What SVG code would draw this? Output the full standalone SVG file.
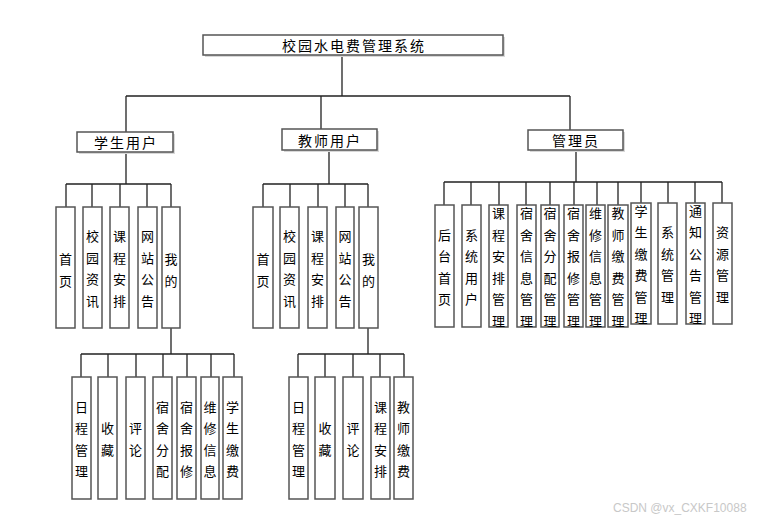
<svg xmlns="http://www.w3.org/2000/svg" width="773" height="523" viewBox="0 0 773 523">
<style>
.b{fill:#fff;stroke:#555;stroke-width:1.5}
.s{fill:#d8d8d8}
.c{fill:none;stroke:#222;stroke-width:1.3}
.t{font-family:"Noto Sans CJK SC","Liberation Sans",sans-serif;font-size:13px;fill:#000;text-anchor:middle;dominant-baseline:central}
.h{font-family:"Noto Sans CJK SC","Liberation Sans",sans-serif;font-size:14px;fill:#000;text-anchor:middle;dominant-baseline:central;letter-spacing:2px}
.w{font-family:"Liberation Sans",sans-serif;font-size:12px;fill:#c8c8c8}
</style>
<rect width="773" height="523" fill="#fff"/>
<g id="connectors">
<path class="c" d="M342,55V96M126,96H570M126,96V132M321,96V129M570,96V130"/>
<path class="c" d="M126,152V184M66,184H171M66,184V207M92,184V207M120,184V207M147,184V207M171,184V207"/>
<path class="c" d="M171,328V354M81,354H234M81,354V377M108,354V377M136,354V377M163,354V377M187,354V377M211,354V377M234,354V377"/>
<path class="c" d="M329,150V184M263,184H368M263,184V207M290,184V207M318,184V207M345,184V207M368,184V207"/>
<path class="c" d="M368,328V354M298,354H404M298,354V377M325,354V377M353,354V377M380,354V377M404,354V377"/>
<path class="c" d="M576,150V182M444,182H722M444,182V205M471,182V205M499,182V205M526,182V205M550,182V205M574,182V205M597,182V205M618,182V205M641,182V203M668,182V203M695,182V203M722,182V203"/>
</g>
<g id="root"><rect class="s" x="205" y="37" width="300" height="20"/><rect class="b" x="203" y="35" width="300" height="20"/><text class="h" x="354" y="45">校园水电费管理系统</text></g>
<g id="student"><rect class="s" x="79" y="134" width="96" height="20"/><rect class="b" x="77" y="132" width="96" height="20"/><text class="h" x="126" y="142">学生用户</text></g>
<g id="teacher"><rect class="s" x="284" y="131" width="95" height="21"/><rect class="b" x="282" y="129" width="95" height="21"/><text class="h" x="330" y="139.5">教师用户</text></g>
<g id="admin"><rect class="s" x="530" y="132" width="95" height="20"/><rect class="b" x="528" y="130" width="95" height="20"/><text class="h" x="576" y="140">管理员</text></g>

<g id="s1"><rect class="b" x="56" y="207" width="19" height="121"/><text class="t"><tspan x="65.5" y="258">首</tspan><tspan x="65.5" y="279.5">页</tspan></text></g>
<g id="s2"><rect class="b" x="83" y="207" width="19" height="121"/><text class="t"><tspan x="92.5" y="235.25">校</tspan><tspan x="92.5" y="256.75">园</tspan><tspan x="92.5" y="278.25">资</tspan><tspan x="92.5" y="299.75">讯</tspan></text></g>
<g id="s3"><rect class="b" x="110" y="207" width="19" height="121"/><text class="t"><tspan x="119.5" y="235.25">课</tspan><tspan x="119.5" y="256.75">程</tspan><tspan x="119.5" y="278.25">安</tspan><tspan x="119.5" y="299.75">排</tspan></text></g>
<g id="s4"><rect class="b" x="138" y="207" width="19" height="121"/><text class="t"><tspan x="147.5" y="235.25">网</tspan><tspan x="147.5" y="256.75">站</tspan><tspan x="147.5" y="278.25">公</tspan><tspan x="147.5" y="299.75">告</tspan></text></g>
<g id="s5"><rect class="b" x="162" y="207" width="18" height="121"/><text class="t"><tspan x="171" y="258">我</tspan><tspan x="171" y="279.5">的</tspan></text></g>

<g id="t1"><rect class="b" x="253" y="207" width="20" height="121"/><text class="t"><tspan x="263" y="258">首</tspan><tspan x="263" y="279.5">页</tspan></text></g>
<g id="t2"><rect class="b" x="280" y="207" width="19" height="121"/><text class="t"><tspan x="289.5" y="235.25">校</tspan><tspan x="289.5" y="256.75">园</tspan><tspan x="289.5" y="278.25">资</tspan><tspan x="289.5" y="299.75">讯</tspan></text></g>
<g id="t3"><rect class="b" x="308" y="207" width="19" height="121"/><text class="t"><tspan x="317.5" y="235.25">课</tspan><tspan x="317.5" y="256.75">程</tspan><tspan x="317.5" y="278.25">安</tspan><tspan x="317.5" y="299.75">排</tspan></text></g>
<g id="t4"><rect class="b" x="336" y="207" width="18" height="121"/><text class="t"><tspan x="345" y="235.25">网</tspan><tspan x="345" y="256.75">站</tspan><tspan x="345" y="278.25">公</tspan><tspan x="345" y="299.75">告</tspan></text></g>
<g id="t5"><rect class="b" x="359" y="207" width="19" height="121"/><text class="t"><tspan x="368.5" y="258">我</tspan><tspan x="368.5" y="279.5">的</tspan></text></g>

<g id="sm1"><rect class="b" x="72" y="377" width="19" height="122"/><text class="t"><tspan x="81.5" y="405.75">日</tspan><tspan x="81.5" y="427.25">程</tspan><tspan x="81.5" y="448.75">管</tspan><tspan x="81.5" y="470.25">理</tspan></text></g>
<g id="sm2"><rect class="b" x="98" y="377" width="19" height="122"/><text class="t"><tspan x="107.5" y="427.25">收</tspan><tspan x="107.5" y="448.75">藏</tspan></text></g>
<g id="sm3"><rect class="b" x="126" y="377" width="19" height="122"/><text class="t"><tspan x="135.5" y="427.25">评</tspan><tspan x="135.5" y="448.75">论</tspan></text></g>
<g id="sm4"><rect class="b" x="153" y="377" width="19" height="122"/><text class="t"><tspan x="162.5" y="405.75">宿</tspan><tspan x="162.5" y="427.25">舍</tspan><tspan x="162.5" y="448.75">分</tspan><tspan x="162.5" y="470.25">配</tspan></text></g>
<g id="sm5"><rect class="b" x="177" y="377" width="19" height="122"/><text class="t"><tspan x="186.5" y="405.75">宿</tspan><tspan x="186.5" y="427.25">舍</tspan><tspan x="186.5" y="448.75">报</tspan><tspan x="186.5" y="470.25">修</tspan></text></g>
<g id="sm6"><rect class="b" x="201" y="377" width="18" height="122"/><text class="t"><tspan x="210" y="405.75">维</tspan><tspan x="210" y="427.25">修</tspan><tspan x="210" y="448.75">信</tspan><tspan x="210" y="470.25">息</tspan></text></g>
<g id="sm7"><rect class="b" x="223" y="377" width="19" height="122"/><text class="t"><tspan x="232.5" y="405.75">学</tspan><tspan x="232.5" y="427.25">生</tspan><tspan x="232.5" y="448.75">缴</tspan><tspan x="232.5" y="470.25">费</tspan></text></g>

<g id="tm1"><rect class="b" x="289" y="377" width="19" height="122"/><text class="t"><tspan x="298.5" y="405.75">日</tspan><tspan x="298.5" y="427.25">程</tspan><tspan x="298.5" y="448.75">管</tspan><tspan x="298.5" y="470.25">理</tspan></text></g>
<g id="tm2"><rect class="b" x="315" y="377" width="20" height="122"/><text class="t"><tspan x="325" y="427.25">收</tspan><tspan x="325" y="448.75">藏</tspan></text></g>
<g id="tm3"><rect class="b" x="343" y="377" width="20" height="122"/><text class="t"><tspan x="353" y="427.25">评</tspan><tspan x="353" y="448.75">论</tspan></text></g>
<g id="tm4"><rect class="b" x="371" y="377" width="19" height="122"/><text class="t"><tspan x="380.5" y="405.75">课</tspan><tspan x="380.5" y="427.25">程</tspan><tspan x="380.5" y="448.75">安</tspan><tspan x="380.5" y="470.25">排</tspan></text></g>
<g id="tm5"><rect class="b" x="394" y="377" width="19" height="122"/><text class="t"><tspan x="403.5" y="405.75">教</tspan><tspan x="403.5" y="427.25">师</tspan><tspan x="403.5" y="448.75">缴</tspan><tspan x="403.5" y="470.25">费</tspan></text></g>

<g id="a1"><rect class="b" x="435" y="205" width="19" height="122"/><text class="t"><tspan x="444.5" y="233.75">后</tspan><tspan x="444.5" y="255.25">台</tspan><tspan x="444.5" y="276.75">首</tspan><tspan x="444.5" y="298.25">页</tspan></text></g>
<g id="a2"><rect class="b" x="462" y="205" width="19" height="122"/><text class="t"><tspan x="471.5" y="233.75">系</tspan><tspan x="471.5" y="255.25">统</tspan><tspan x="471.5" y="276.75">用</tspan><tspan x="471.5" y="298.25">户</tspan></text></g>
<g id="a3"><rect class="b" x="489" y="205" width="19" height="122"/><text class="t"><tspan x="498.5" y="212.25">课</tspan><tspan x="498.5" y="233.75">程</tspan><tspan x="498.5" y="255.25">安</tspan><tspan x="498.5" y="276.75">排</tspan><tspan x="498.5" y="298.25">管</tspan><tspan x="498.5" y="319.75">理</tspan></text></g>
<g id="a4"><rect class="b" x="517" y="205" width="19" height="122"/><text class="t"><tspan x="526.5" y="212.25">宿</tspan><tspan x="526.5" y="233.75">舍</tspan><tspan x="526.5" y="255.25">信</tspan><tspan x="526.5" y="276.75">息</tspan><tspan x="526.5" y="298.25">管</tspan><tspan x="526.5" y="319.75">理</tspan></text></g>
<g id="a5"><rect class="b" x="541" y="205" width="18" height="122"/><text class="t"><tspan x="550" y="212.25">宿</tspan><tspan x="550" y="233.75">舍</tspan><tspan x="550" y="255.25">分</tspan><tspan x="550" y="276.75">配</tspan><tspan x="550" y="298.25">管</tspan><tspan x="550" y="319.75">理</tspan></text></g>
<g id="a6"><rect class="b" x="564" y="205" width="19" height="122"/><text class="t"><tspan x="573.5" y="212.25">宿</tspan><tspan x="573.5" y="233.75">舍</tspan><tspan x="573.5" y="255.25">报</tspan><tspan x="573.5" y="276.75">修</tspan><tspan x="573.5" y="298.25">管</tspan><tspan x="573.5" y="319.75">理</tspan></text></g>
<g id="a7"><rect class="b" x="586" y="205" width="19" height="122"/><text class="t"><tspan x="595.5" y="212.25">维</tspan><tspan x="595.5" y="233.75">修</tspan><tspan x="595.5" y="255.25">信</tspan><tspan x="595.5" y="276.75">息</tspan><tspan x="595.5" y="298.25">管</tspan><tspan x="595.5" y="319.75">理</tspan></text></g>
<g id="a8"><rect class="b" x="608" y="205" width="20" height="122"/><text class="t"><tspan x="618" y="212.25">教</tspan><tspan x="618" y="233.75">师</tspan><tspan x="618" y="255.25">缴</tspan><tspan x="618" y="276.75">费</tspan><tspan x="618" y="298.25">管</tspan><tspan x="618" y="319.75">理</tspan></text></g>
<g id="a9"><rect class="b" x="631" y="203" width="20" height="121"/><text class="t"><tspan x="641" y="209.75">学</tspan><tspan x="641" y="231.25">生</tspan><tspan x="641" y="252.75">缴</tspan><tspan x="641" y="274.25">费</tspan><tspan x="641" y="295.75">管</tspan><tspan x="641" y="317.25">理</tspan></text></g>
<g id="a10"><rect class="b" x="658" y="203" width="19" height="121"/><text class="t"><tspan x="667.5" y="231.25">系</tspan><tspan x="667.5" y="252.75">统</tspan><tspan x="667.5" y="274.25">管</tspan><tspan x="667.5" y="295.75">理</tspan></text></g>
<g id="a11"><rect class="b" x="686" y="203" width="19" height="121"/><text class="t"><tspan x="695.5" y="209.75">通</tspan><tspan x="695.5" y="231.25">知</tspan><tspan x="695.5" y="252.75">公</tspan><tspan x="695.5" y="274.25">告</tspan><tspan x="695.5" y="295.75">管</tspan><tspan x="695.5" y="317.25">理</tspan></text></g>
<g id="a12"><rect class="b" x="713" y="203" width="19" height="121"/><text class="t"><tspan x="722.5" y="231.25">资</tspan><tspan x="722.5" y="252.75">源</tspan><tspan x="722.5" y="274.25">管</tspan><tspan x="722.5" y="295.75">理</tspan></text></g>

<text class="w" x="613" y="512">CSDN @vx_CXKF10088</text>
</svg>
